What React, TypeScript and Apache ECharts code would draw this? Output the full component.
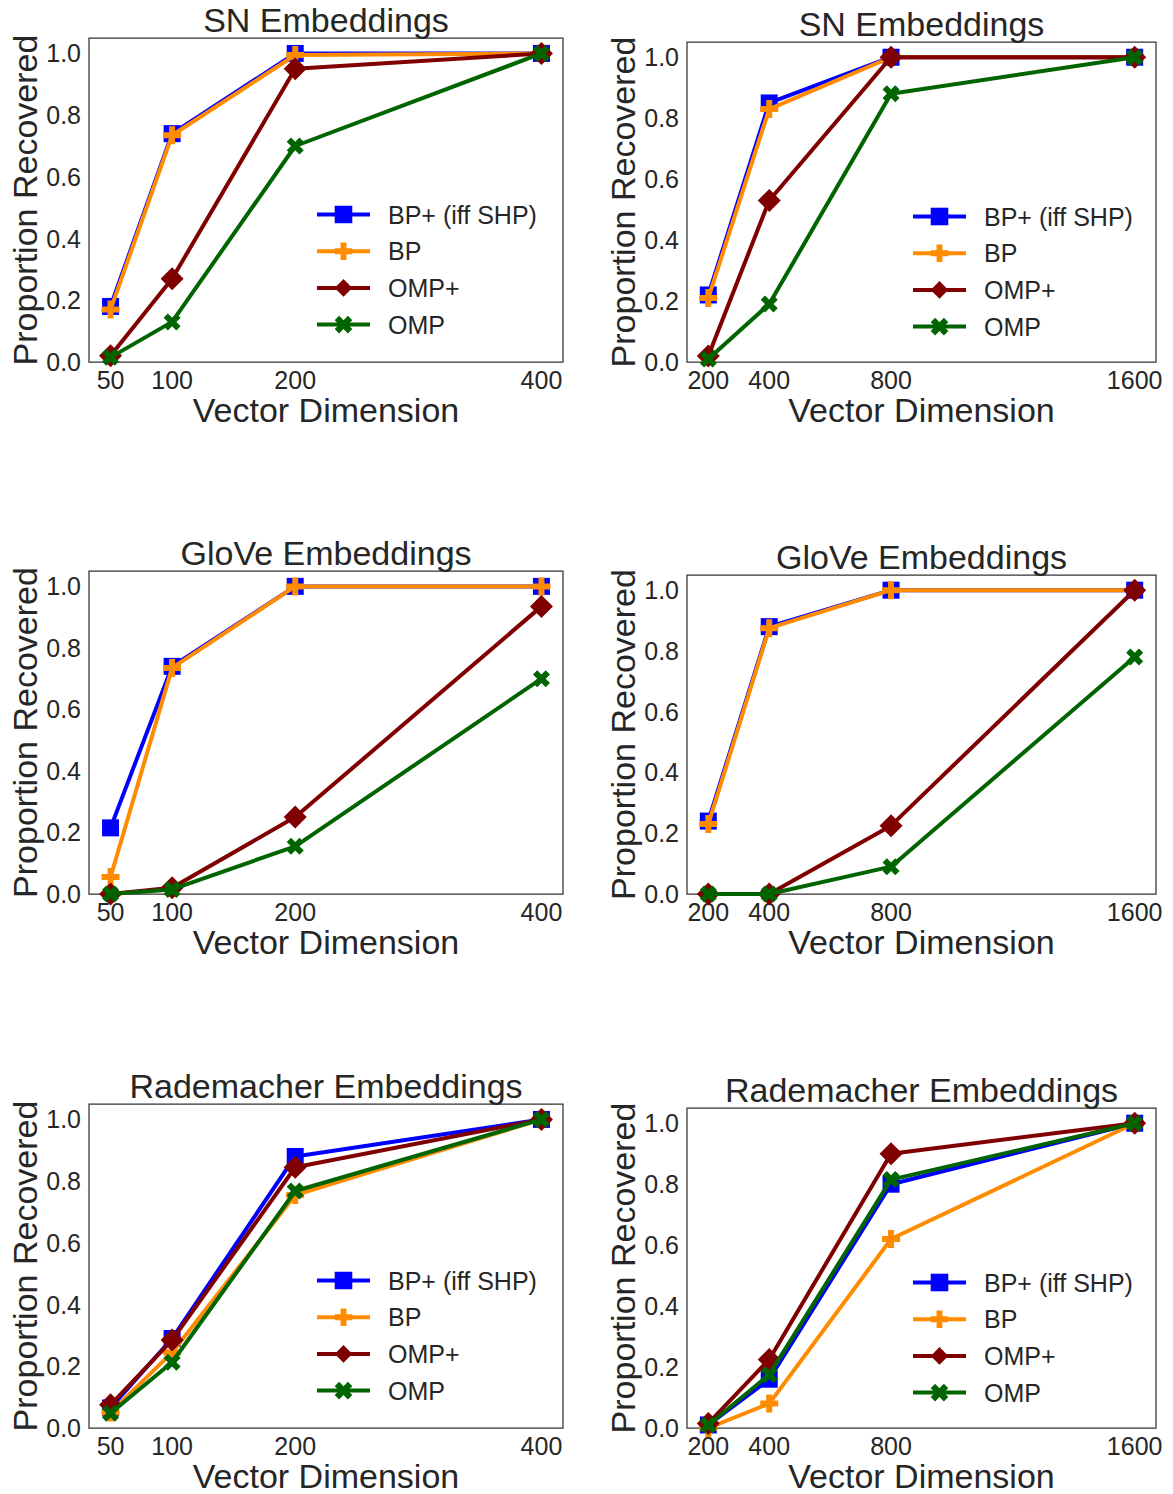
import React, { useEffect, useRef } from "react";
import * as echarts from "echarts";

const FONT = "'Liberation Sans', Arial, Helvetica, sans-serif";
const TEXT = "#262626";

// ---- data ----
const dimsSmall = [50, 100, 200, 400];
const dimsLarge = [200, 400, 800, 1600];
const yTicks = [0, 0.2, 0.4, 0.6, 0.8, 1.0];
const methodNames = ["BP+ (iff SHP)", "BP", "OMP+", "OMP"];

const snSmallBPplus = [0.18, 0.74, 1.0, 1.0];
const snSmallBP = [0.17, 0.735, 0.995, 1.0];
const snSmallOMPplus = [0.02, 0.27, 0.95, 1.0];
const snSmallOMP = [0.015, 0.13, 0.7, 1.0];

const snLargeBPplus = [0.22, 0.85, 1.0, 1.0];
const snLargeBP = [0.21, 0.83, 1.0, 1.0];
const snLargeOMPplus = [0.02, 0.53, 1.0, 1.0];
const snLargeOMP = [0.01, 0.19, 0.88, 1.0];

const gloveSmallBPplus = [0.215, 0.74, 1.0, 1.0];
const gloveSmallBP = [0.055, 0.735, 1.0, 1.0];
const gloveSmallOMPplus = [0.0, 0.02, 0.25, 0.935];
const gloveSmallOMP = [0.0, 0.015, 0.155, 0.7];

const gloveLargeBPplus = [0.24, 0.88, 1.0, 1.0];
const gloveLargeBP = [0.23, 0.875, 1.0, 1.0];
const gloveLargeOMPplus = [0.0, 0.0, 0.225, 1.0];
const gloveLargeOMP = [0.0, 0.0, 0.09, 0.78];

const radSmallBPplus = [0.065, 0.29, 0.88, 1.0];
const radSmallBP = [0.05, 0.245, 0.755, 1.0];
const radSmallOMPplus = [0.075, 0.285, 0.845, 1.0];
const radSmallOMP = [0.048, 0.213, 0.768, 1.0];

const radLargeBPplus = [0.01, 0.16, 0.8, 1.0];
const radLargeBP = [0.0, 0.08, 0.62, 1.0];
const radLargeOMPplus = [0.015, 0.225, 0.9, 1.0];
const radLargeOMP = [0.01, 0.175, 0.815, 1.0];

// ---- styles ----
const PLUS_PATH = "path://M1,0H2V1H3V2H2V3H1V2H0V1H1Z";
const X_PATH =
  "path://M2.1213,0L2.8284,0.7071L2.1213,1.4142L2.8284,2.1213L2.1213,2.8284L1.4142,2.1213L0.7071,2.8284L0,2.1213L0.7071,1.4142L0,0.7071L0.7071,0L1.4142,0.7071Z";

const methodStyles = [
  { color: "#0000ff", symbol: "rect", size: 17 },
  { color: "#ff8c00", symbol: PLUS_PATH, size: 18 },
  { color: "#800000", symbol: "diamond", size: 23 },
  { color: "#006400", symbol: X_PATH, size: 17 },
];

const panels = [
  {
    title: "SN Embeddings",
    dims: dimsSmall,
    values: [snSmallBPplus, snSmallBP, snSmallOMPplus, snSmallOMP],
    rect: { left: 89, top: 38, width: 474, height: 324 },
    legend: { left: 315, top: 202 },
  },
  {
    title: "SN Embeddings",
    dims: dimsLarge,
    values: [snLargeBPplus, snLargeBP, snLargeOMPplus, snLargeOMP],
    rect: { left: 687, top: 42, width: 469, height: 320 },
    legend: { left: 911, top: 204 },
  },
  {
    title: "GloVe Embeddings",
    dims: dimsSmall,
    values: [gloveSmallBPplus, gloveSmallBP, gloveSmallOMPplus, gloveSmallOMP],
    rect: { left: 89, top: 571, width: 474, height: 323 },
    legend: null,
  },
  {
    title: "GloVe Embeddings",
    dims: dimsLarge,
    values: [gloveLargeBPplus, gloveLargeBP, gloveLargeOMPplus, gloveLargeOMP],
    rect: { left: 687, top: 575, width: 469, height: 319 },
    legend: null,
  },
  {
    title: "Rademacher Embeddings",
    dims: dimsSmall,
    values: [radSmallBPplus, radSmallBP, radSmallOMPplus, radSmallOMP],
    rect: { left: 89, top: 1104, width: 474, height: 324 },
    legend: { left: 315, top: 1268 },
  },
  {
    title: "Rademacher Embeddings",
    dims: dimsLarge,
    values: [radLargeBPplus, radLargeBP, radLargeOMPplus, radLargeOMP],
    rect: { left: 687, top: 1108, width: 469, height: 320 },
    legend: { left: 911, top: 1270 },
  },
];

function buildOption() {
  const grid: any[] = [];
  const xAxis: any[] = [];
  const yAxis: any[] = [];
  const series: any[] = [];
  const legend: any[] = [];
  const graphic: any[] = [];

  panels.forEach((p, pi) => {
    grid.push({
      ...p.rect,
      show: true,
      borderColor: "#333333",
      borderWidth: 1.25,
      backgroundColor: "transparent",
      containLabel: false,
    });
    const span = p.dims[p.dims.length - 1] - p.dims[0];
    xAxis.push({
      gridIndex: pi,
      type: "value",
      min: p.dims[0] - 0.05 * span,
      max: p.dims[p.dims.length - 1] + 0.05 * span,
      axisLine: { show: false },
      axisTick: { show: false },
      splitLine: { show: false },
      axisLabel: {
        customValues: p.dims,
        formatter: (v: number) => String(v),
        fontSize: 25,
        color: TEXT,
        fontFamily: FONT,
        margin: 5,
      },
      name: "Vector Dimension",
      nameLocation: "middle",
      nameGap: 31,
      nameTextStyle: { fontSize: 34, color: TEXT, fontFamily: FONT },
    });
    yAxis.push({
      gridIndex: pi,
      type: "value",
      min: 0,
      max: 1.05,
      axisLine: { show: false },
      axisTick: { show: false },
      splitLine: { show: false },
      axisLabel: {
        customValues: yTicks,
        formatter: (v: number) => v.toFixed(1),
        fontSize: 25,
        color: TEXT,
        fontFamily: FONT,
        margin: 8,
      },
      name: "Proportion Recovered",
      nameLocation: "middle",
      nameGap: 47,
      nameRotate: 90,
      nameTextStyle: { fontSize: 34, color: TEXT, fontFamily: FONT },
    });
    p.values.forEach((vals, mi) => {
      const st = methodStyles[mi];
      series.push({
        type: "line",
        name: methodNames[mi],
        xAxisIndex: pi,
        yAxisIndex: pi,
        data: p.dims.map((d, i) => [d, vals[i]]),
        symbol: st.symbol,
        symbolSize: st.size,
        showAllSymbol: true,
        lineStyle: { color: st.color, width: 4 },
        itemStyle: { color: st.color },
        z: 2 + mi,
        silent: true,
      });
    });
    if (p.legend) {
      legend.push({
        orient: "vertical",
        left: p.legend.left,
        top: p.legend.top,
        padding: 0,
        itemWidth: 53,
        itemHeight: 22,
        itemGap: 11.7,
        selectedMode: false,
        data: methodNames,
        lineStyle: { width: 4 },
        textStyle: {
          fontSize: 25,
          color: TEXT,
          fontFamily: FONT,
          padding: [0, 0, 0, 13],
        },
      });
    }
    graphic.push({
      type: "text",
      x: p.rect.left + p.rect.width / 2,
      y: p.rect.top - 18.5,
      style: {
        text: p.title,
        fontSize: 34,
        fontFamily: FONT,
        fill: TEXT,
        align: "center",
        verticalAlign: "middle",
        textAlign: "center",
        textVerticalAlign: "middle",
      },
    });
  });

  return {
    animation: false,
    backgroundColor: "#ffffff",
    grid,
    xAxis,
    yAxis,
    series,
    legend,
    graphic,
  };
}

export default function App() {
  const ref = useRef<HTMLDivElement>(null);
  useEffect(() => {
    const chart = echarts.init(ref.current!, null, { renderer: "svg" });
    chart.setOption(buildOption() as any);
    return () => chart.dispose();
  }, []);
  return (
    <div
      ref={ref}
      style={{
        position: "absolute",
        left: 0,
        top: 0,
        width: 1173,
        height: 1494,
        background: "#fff",
      }}
    />
  );
}
